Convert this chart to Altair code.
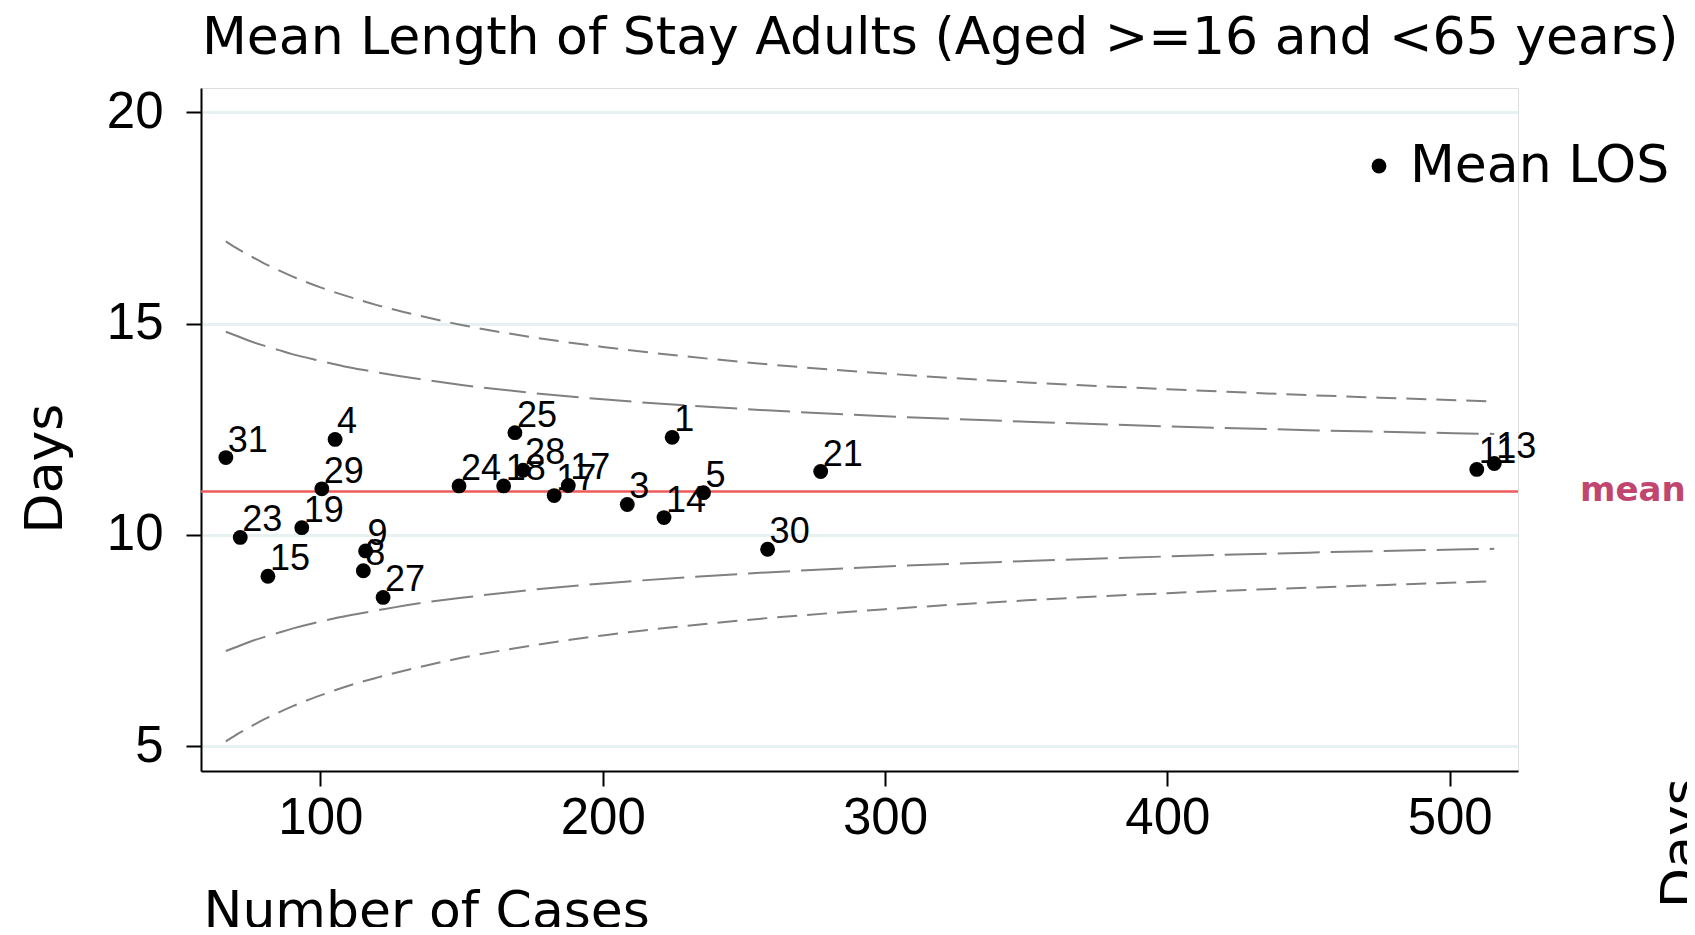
import altair as alt
import pandas as pd

# ---- data ----
hospital_ids = ["31", "23", "15", "19", "29", "4", "9", "8", "27", "24", "18", "25",
                "28", "17", "17", "3", "14", "1", "5", "30", "21", "11", "13"]
num_cases = [66.5, 71.6, 81.4, 93.4, 100.5, 105.2, 116.0, 115.2, 122.2, 149.1, 164.9, 168.9,
             171.8, 182.8, 187.8, 208.7, 221.7, 224.6, 235.7, 258.4, 277.2, 509.6, 515.8]
mean_los = [11.83, 9.94, 9.02, 10.17, 11.09, 12.26, 9.62, 9.15, 8.52, 11.16, 11.16, 12.42,
            11.53, 10.93, 11.17, 10.72, 10.41, 12.31, 11.00, 9.66, 11.50, 11.55, 11.69]

overall_mean = 11.03

limit_n = [66.5, 70, 75, 80, 85, 90, 100, 110, 120, 135, 150, 175, 200, 250, 300, 350, 400, 450, 515.8]
upper_998 = [16.95, 16.80, 16.61, 16.43, 16.27, 16.12, 15.86, 15.64, 15.44, 15.19, 14.97, 14.68,
             14.45, 14.09, 13.82, 13.61, 13.45, 13.31, 13.16]
upper_95 = [14.81, 14.72, 14.59, 14.48, 14.38, 14.28, 14.12, 13.97, 13.85, 13.69, 13.55, 13.36,
            13.21, 12.98, 12.81, 12.68, 12.57, 12.48, 12.39]
lower_95 = [7.25, 7.34, 7.47, 7.58, 7.68, 7.78, 7.95, 8.09, 8.21, 8.38, 8.51, 8.70,
            8.85, 9.08, 9.25, 9.38, 9.49, 9.58, 9.67]
lower_998 = [5.11, 5.26, 5.45, 5.63, 5.79, 5.94, 6.20, 6.43, 6.62, 6.87, 7.09, 7.38,
             7.62, 7.98, 8.24, 8.45, 8.62, 8.75, 8.90]

x_ticks = [100, 200, 300, 400, 500]
y_ticks = [5, 10, 15, 20]

title_text = "Mean Length of Stay Adults (Aged >=16 and <65 years)"

# ---- tables ----
points = pd.DataFrame({"id": hospital_ids, "cases": num_cases, "los": mean_los,
                       "series": ["Mean LOS"] * len(num_cases)})

outer = pd.concat([
    pd.DataFrame({"cases": limit_n, "val": upper_998, "band": "upper_998"}),
    pd.DataFrame({"cases": limit_n, "val": lower_998, "band": "lower_998"}),
])
inner = pd.concat([
    pd.DataFrame({"cases": limit_n, "val": upper_95, "band": "upper_95"}),
    pd.DataFrame({"cases": limit_n, "val": lower_95, "band": "lower_95"}),
])
mean_df = pd.DataFrame({"mean": [overall_mean], "label": ["mean"]})
title_df = pd.DataFrame({"t": [title_text]})
extra_df = pd.DataFrame({"t": ["Days"]})

W, H = 1317, 683
SANS = "DejaVu Sans"
ARIAL = "Liberation Sans"

xscale = alt.Scale(domain=[57.7, 524.2], nice=False, zero=False)
yscale = alt.Scale(domain=[4.41, 20.58], nice=False, zero=False)

x_axis = alt.Axis(values=x_ticks, title="Number of Cases", grid=False,
                  titleFont=SANS, titleFontSize=52, titleFontWeight="normal", titleColor="black",
                  titleX=2, titleY=156, titleAlign="left", titleBaseline="alphabetic", titleAnchor="start",
                  labelFont=ARIAL, labelFontSize=51, labelColor="black", labelPadding=7,
                  tickColor="black", tickSize=15, tickWidth=2,
                  domainColor="black", domainWidth=2)
y_axis = alt.Axis(values=y_ticks, title="Days", grid=True, gridColor="#e8f1f2", gridWidth=3,
                  titleFont=SANS, titleFontSize=52, titleFontWeight="normal", titleColor="black",
                  titleX=-140, titleY=380, titleAngle=270, titleAlign="center", titleBaseline="alphabetic",
                  labelFont=ARIAL, labelFontSize=51, labelColor="black", labelPadding=23,
                  tickColor="black", tickSize=15, tickWidth=2,
                  domainColor="black", domainWidth=2)

outer_lines = alt.Chart(outer).mark_line(color="#808080", strokeWidth=2, strokeDash=[20, 10],
                                         interpolate="monotone").encode(
    x=alt.X("cases:Q", scale=xscale, axis=x_axis),
    y=alt.Y("val:Q", scale=yscale, axis=y_axis),
    detail="band:N",
)
inner_lines = alt.Chart(inner).mark_line(color="#808080", strokeWidth=2, strokeDash=[42, 11],
                                         interpolate="monotone").encode(
    x=alt.X("cases:Q", scale=xscale),
    y=alt.Y("val:Q", scale=yscale),
    detail="band:N",
)
mean_rule = alt.Chart(mean_df).mark_rule(color="#ef5b5b", strokeWidth=2.5).encode(
    y=alt.Y("mean:Q", scale=yscale),
)
mean_label = alt.Chart(mean_df).mark_text(align="left", baseline="middle", font=SANS,
                                          fontSize=34, fontWeight="bold", color="#c1466f").encode(
    x=alt.value(1379),
    y=alt.Y("mean:Q", scale=yscale),
    text="label:N",
)
dots = alt.Chart(points).mark_point(filled=True, size=220, opacity=1, shape="circle").encode(
    x=alt.X("cases:Q", scale=xscale),
    y=alt.Y("los:Q", scale=yscale),
    color=alt.Color("series:N", scale=alt.Scale(range=["black"]),
                    legend=alt.Legend(title=None, orient="none", legendX=1152, legendY=52,
                                      padding=0, labelFont=SANS, labelFontSize=52,
                                      labelColor="black", labelOffset=5, labelLimit=0,
                                      symbolType="circle", symbolSize=220,
                                      symbolStrokeWidth=0, symbolOpacity=1)),
)
labels = alt.Chart(points).mark_text(align="left", baseline="alphabetic", dx=2, dy=-6,
                                     font=ARIAL, fontSize=36, color="black").encode(
    x=alt.X("cases:Q", scale=xscale),
    y=alt.Y("los:Q", scale=yscale),
    text="id:N",
)
title_mark = alt.Chart(title_df).mark_text(align="left", baseline="alphabetic", font=SANS,
                                           fontSize=52, color="black").encode(
    x=alt.value(1),
    y=alt.value(-34),
    text="t:N",
)
right_days = alt.Chart(extra_df).mark_text(align="left", baseline="alphabetic", angle=270,
                                           font=SANS, fontSize=52, color="black").encode(
    x=alt.value(1497),
    y=alt.value(820),
    text="t:N",
)

chart = alt.layer(outer_lines, inner_lines, mean_rule, mean_label, dots, labels,
                  title_mark, right_days).properties(
    width=W, height=H,
    padding={"left": 193, "top": 80, "right": 169, "bottom": 156},
    autosize=alt.AutoSizeParams(type="none"),
).configure_view(stroke=None).configure(background="white")

chart.save("out.html", embed_options={"renderer": "svg", "actions": False})
